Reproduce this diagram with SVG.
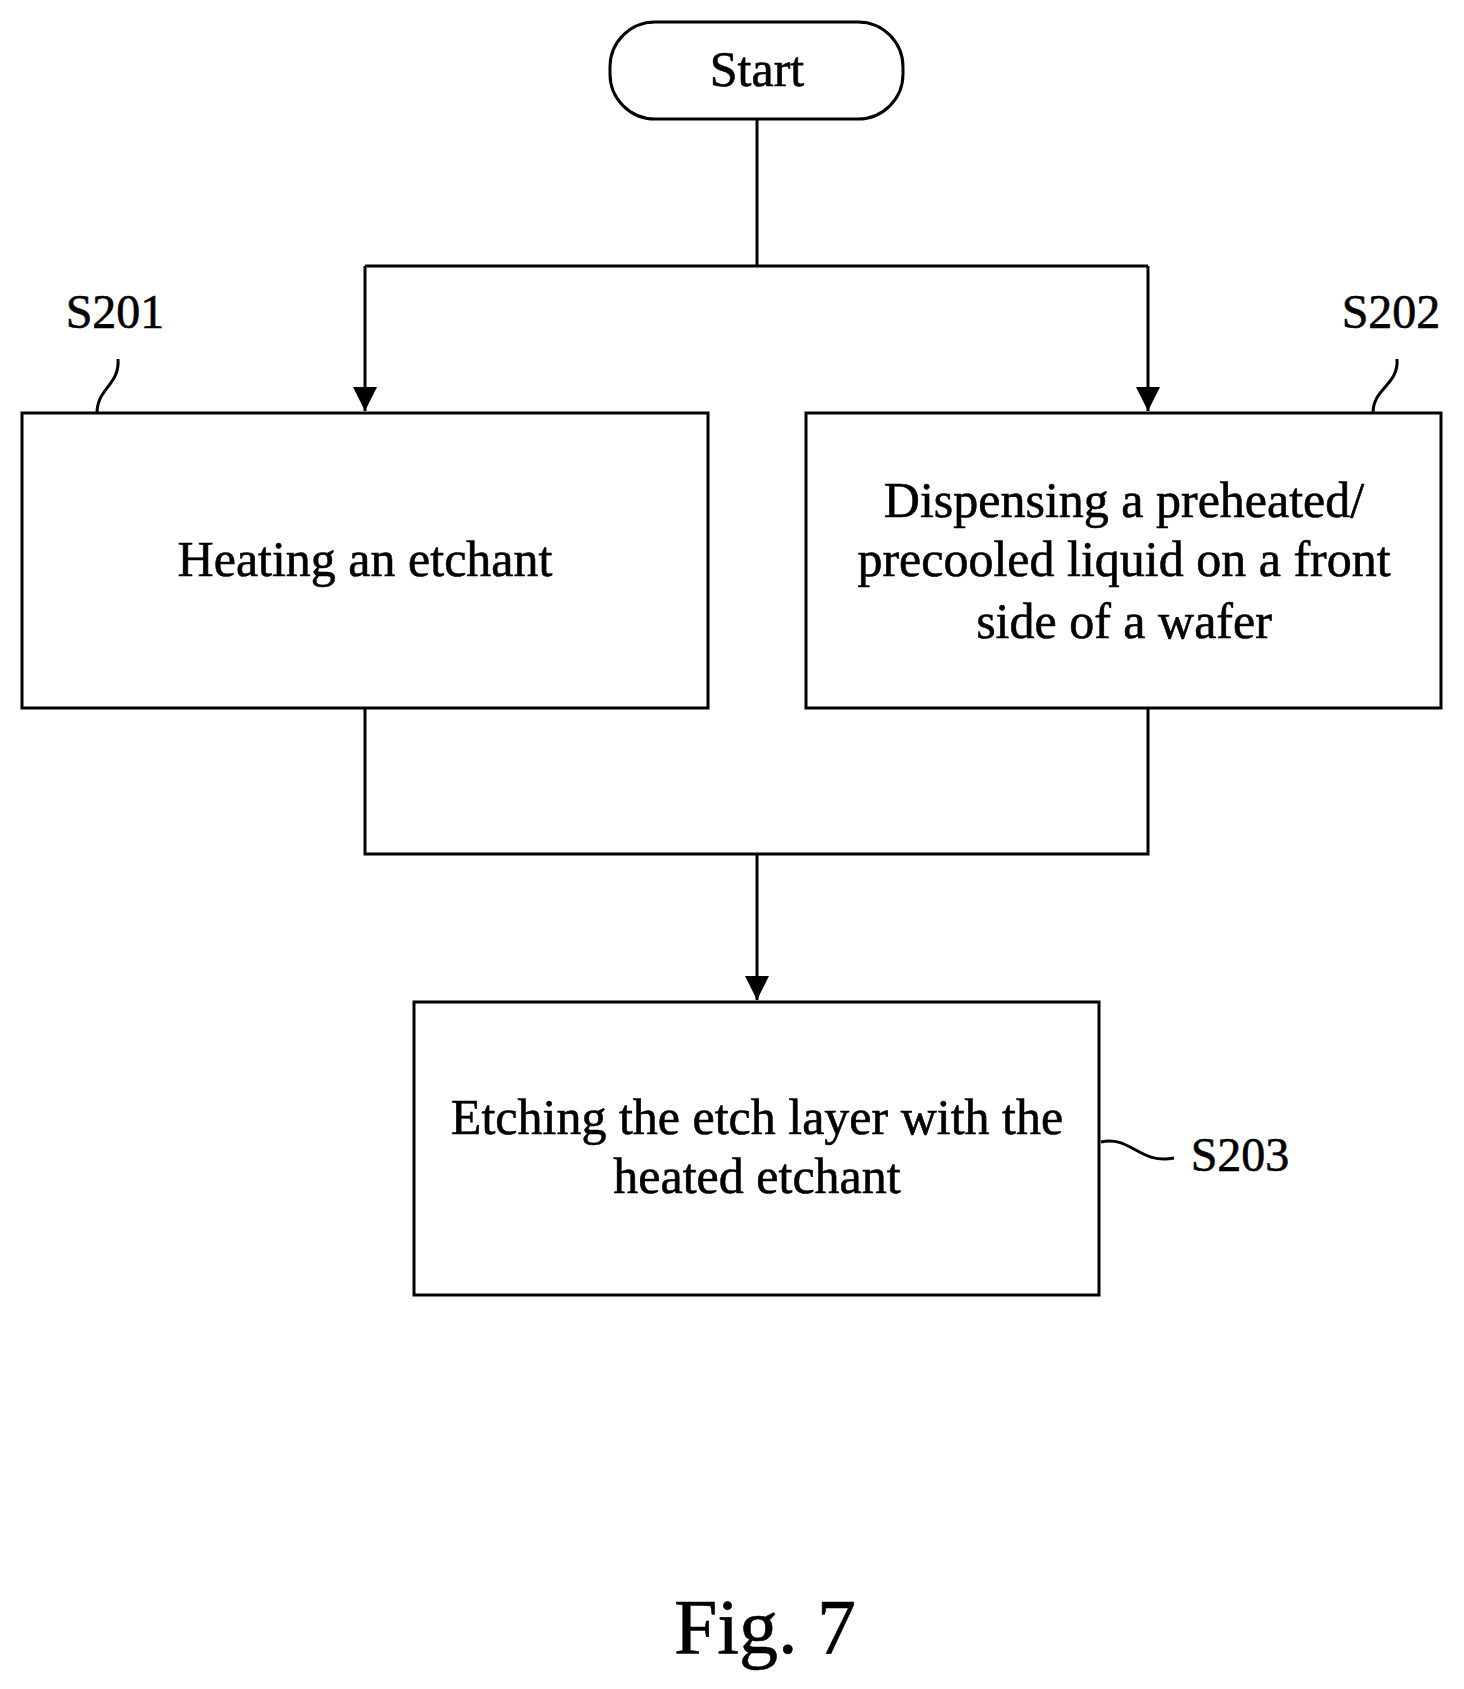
<svg xmlns="http://www.w3.org/2000/svg" width="1464" height="1689" viewBox="0 0 1464 1689">
<style>
.b{fill:#fff;stroke:#000;stroke-width:3}
.l{fill:none;stroke:#000;stroke-width:3}
text{font-family:"Liberation Serif",serif;fill:#000;text-anchor:middle;stroke:#000;stroke-width:0.6}
.t{font-size:50px}
.s{font-size:48px}
</style>
<defs><marker id="a" markerWidth="24" markerHeight="36" refX="24" refY="12" orient="auto" markerUnits="userSpaceOnUse" viewBox="0 0 24 24"><path d="M0,0 L24,12 L0,24 Z" fill="#000"/></marker></defs>
<rect width="1464" height="1689" fill="#fff"/>
<g id="connectors">
<path class="l" d="M757,119 V266 M365,266 H1148"/>
<path class="l" d="M365,266 V411" marker-end="url(#a)"/>
<path class="l" d="M1148,266 V411" marker-end="url(#a)"/>
<path class="l" d="M365,708 V854 H1148 V708"/>
<path class="l" d="M757,854 V1000" marker-end="url(#a)"/>
<path class="l" d="M118,359 C120,385 97,388 97,413"/>
<path class="l" d="M1397,359 C1399,385 1373,388 1373,413"/>
<path class="l" d="M1101,1142 C1130,1135 1140,1165 1174,1158"/>
</g>
<g id="start"><rect class="b" x="610" y="22" width="293" height="97" rx="45"/><text class="t" x="757" y="86">Start</text></g>
<g id="s201"><rect class="b" x="22" y="413" width="686" height="295"/><text class="t" x="365" y="576">Heating an etchant</text><text class="s" x="115" y="328">S201</text></g>
<g id="s202"><rect class="b" x="806" y="413" width="635" height="295"/><text class="t" x="1124" y="517">Dispensing a preheated/</text><text class="t" x="1124" y="576">precooled liquid on a front</text><text class="t" x="1124" y="638">side of a wafer</text><text class="s" x="1391" y="328">S202</text></g>
<g id="s203"><rect class="b" x="414" y="1002" width="685" height="293"/><text class="t" x="757" y="1134">Etching the etch layer with the</text><text class="t" x="757" y="1193">heated etchant</text><text class="s" x="1240" y="1171">S203</text></g>
<text x="765" y="1653" style="font-size:78px">Fig. 7</text>
</svg>
